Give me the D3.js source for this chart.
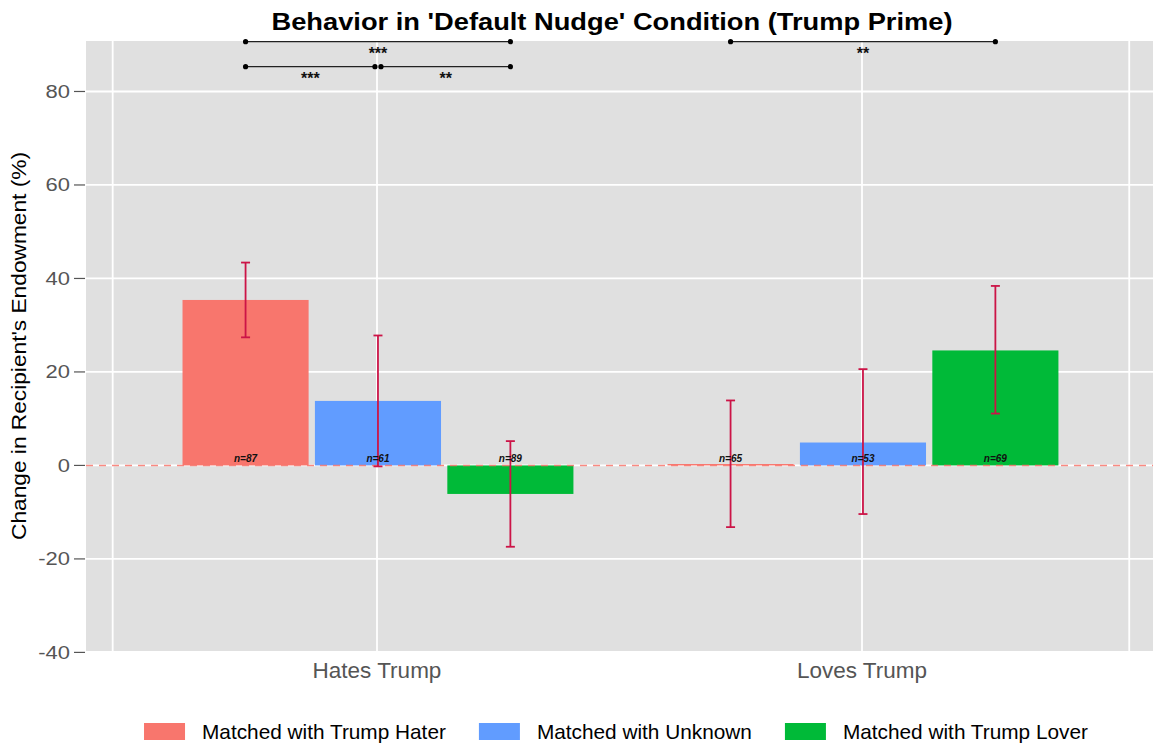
<!DOCTYPE html>
<html>
<head>
<meta charset="utf-8">
<script src="https://cdn.jsdelivr.net/npm/d3@7/dist/d3.min.js"></script>
<style>
  html, body { margin: 0; padding: 0; background: #ffffff; }
  svg { display: block; font-family: "Liberation Sans", Arial, sans-serif; }
</style>
</head>
<body>
<svg id="chart" width="1153" height="748"></svg>
<script>
// ---- data ----
const groups = ["Hates Trump", "Loves Trump"];
const series = ["Matched with Trump Hater", "Matched with Unknown", "Matched with Trump Lover"];
const colors = ["#F8766D", "#619CFF", "#00BA38"];

// mean change (%), per group, per partner type
const meanHates = [35.4, 13.8, -6.1];
const meanLoves = [0.3, 4.9, 24.6];
// error bar bounds
const lowerHates = [27.4, -0.2, -17.4];
const upperHates = [43.4, 27.8, 5.2];
const lowerLoves = [-13.2, -10.4, 11.1];
const upperLoves = [13.9, 20.6, 38.4];
// sample sizes
const nHates = [87, 61, 89];
const nLoves = [65, 53, 69];

const yTicks = [-40, -20, 0, 20, 40, 60, 80];

// significance comparisons: group index, series pair, bracket height, label
const sigGroup = [0, 0, 0, 1];
const sigFrom  = [0, 0, 1, 0];
const sigTo    = [2, 1, 2, 2];
const sigY     = [90.65, 85.3, 85.3, 90.65];
const sigLabel = ["***", "***", "**", "**"];

// ---- layout ----
const svg = d3.select("#chart");
const panel = { left: 86, right: 1153, top: 41, bottom: 651 };

const x = d3.scaleLinear().domain([0.4, 2.6]).range([panel.left, panel.right]);
const y = d3.scaleLinear().domain([-39.7, 90.8]).range([panel.bottom, panel.top]);
const xGrid = [0.455, 1, 2, 2.551];
const dodge = 0.273, barW = 0.26;
const pos = (g, s) => (g + 1) + (s - 1) * dodge + 0.002;

const rows = [];
groups.forEach((g, gi) => {
  const mean = gi === 0 ? meanHates : meanLoves;
  const lo = gi === 0 ? lowerHates : lowerLoves;
  const hi = gi === 0 ? upperHates : upperLoves;
  const n = gi === 0 ? nHates : nLoves;
  series.forEach((s, si) => rows.push({ gi, si, mean: mean[si], lo: lo[si], hi: hi[si], n: n[si] }));
});

// panel background
svg.append("rect")
  .attr("x", panel.left).attr("y", panel.top)
  .attr("width", panel.right - panel.left).attr("height", panel.bottom - panel.top)
  .attr("fill", "#E0E0E0");

svg.append("defs").append("clipPath").attr("id", "panelClip")
  .append("rect").attr("x", panel.left).attr("y", panel.top)
  .attr("width", panel.right - panel.left).attr("height", panel.bottom - panel.top);

const gridG = svg.append("g").attr("clip-path", "url(#panelClip)");
gridG.selectAll("line.h").data(yTicks).join("line")
  .attr("x1", panel.left).attr("x2", panel.right)
  .attr("y1", d => y(d)).attr("y2", d => y(d))
  .attr("stroke", "#ffffff").attr("stroke-width", 1.8);
gridG.selectAll("line.v").data(xGrid).join("line")
  .attr("y1", panel.top).attr("y2", panel.bottom)
  .attr("x1", d => x(d)).attr("x2", d => x(d))
  .attr("stroke", "#ffffff").attr("stroke-width", 1.8);

// bars
const bw = x(barW) - x(0);
svg.append("g").selectAll("rect").data(rows).join("rect")
  .attr("x", d => x(pos(d.gi, d.si)) - bw / 2)
  .attr("width", bw)
  .attr("y", d => y(Math.max(0, d.mean)))
  .attr("height", d => Math.abs(y(d.mean) - y(0)))
  .attr("fill", d => colors[d.si]);

// dashed reference line at zero
svg.append("line")
  .attr("x1", panel.left).attr("x2", panel.right)
  .attr("y1", y(0)).attr("y2", y(0))
  .attr("stroke", "#F8766D").attr("stroke-width", 1.5)
  .attr("stroke-dasharray", "7,6").attr("opacity", 0.85);

// error bars
const eb = svg.append("g").attr("stroke", "#CC1447").attr("stroke-width", 1.8).attr("fill", "none");
rows.forEach(d => {
  const cx = x(pos(d.gi, d.si));
  eb.append("line").attr("x1", cx).attr("x2", cx).attr("y1", y(d.lo)).attr("y2", y(d.hi));
  eb.append("line").attr("x1", cx - 4.5).attr("x2", cx + 4.5).attr("y1", y(d.lo)).attr("y2", y(d.lo));
  eb.append("line").attr("x1", cx - 4.5).attr("x2", cx + 4.5).attr("y1", y(d.hi)).attr("y2", y(d.hi));
});

// sample size labels
svg.append("g").selectAll("text").data(rows).join("text")
  .attr("x", d => x(pos(d.gi, d.si)))
  .attr("y", y(0) - 3.5)
  .attr("text-anchor", "middle")
  .attr("font-size", 10).attr("font-weight", "bold").attr("font-style", "italic")
  .attr("fill", "#111")
  .text(d => "n=" + d.n);

// significance brackets
const sg = svg.append("g");
sigGroup.forEach((g, i) => {
  let x1 = x(pos(g, sigFrom[i])), x2 = x(pos(g, sigTo[i]));
  if (sigFrom[i] === 1) x1 += 3;
  if (sigTo[i] === 1) x2 -= 3;
  const yy = y(sigY[i]);
  sg.append("line").attr("x1", x1).attr("x2", x2).attr("y1", yy).attr("y2", yy)
    .attr("stroke", "#222").attr("stroke-width", 1.2);
  [x1, x2].forEach(px => sg.append("circle").attr("cx", px).attr("cy", yy).attr("r", 2.6).attr("fill", "#000"));
  sg.append("text").attr("x", (x1 + x2) / 2).attr("y", yy + 17)
    .attr("text-anchor", "middle").attr("font-size", 16).attr("font-weight", "bold")
    .attr("fill", "#111").text(sigLabel[i]);
});

// y axis
const yAxis = svg.append("g");
yAxis.selectAll("line").data(yTicks).join("line")
  .attr("x1", panel.left - 12).attr("x2", panel.left - 1)
  .attr("y1", d => y(d)).attr("y2", d => y(d))
  .attr("stroke", "#555").attr("stroke-width", 1.2);
yAxis.selectAll("text").data(yTicks).join("text")
  .attr("x", panel.left - 16).attr("y", d => y(d))
  .attr("dy", "0.36em").attr("text-anchor", "end")
  .attr("font-size", 18).attr("fill", "#555")
  .text(d => d)
  .each(function () {
    const w = this.getComputedTextLength();
    d3.select(this).attr("textLength", w * 1.22).attr("lengthAdjust", "spacingAndGlyphs");
  });

// x axis labels
svg.append("g").selectAll("text").data(groups).join("text")
  .attr("x", (d, i) => x(i + 1))
  .attr("y", 678)
  .attr("text-anchor", "middle")
  .attr("font-size", 22.5).attr("fill", "#555")
  .text(d => d);

// y axis title
svg.append("text")
  .attr("transform", `translate(26,${(panel.top + panel.bottom) / 2}) rotate(-90)`)
  .attr("text-anchor", "middle")
  .attr("font-size", 20.5).attr("fill", "#000")
  .attr("textLength", 388).attr("lengthAdjust", "spacingAndGlyphs")
  .text("Change in Recipient's Endowment (%)");

// title
svg.append("text")
  .attr("x", 612).attr("y", 30)
  .attr("text-anchor", "middle")
  .attr("font-size", 24).attr("font-weight", "bold").attr("fill", "#000")
  .attr("textLength", 681).attr("lengthAdjust", "spacingAndGlyphs")
  .text("Behavior in 'Default Nudge' Condition (Trump Prime)");

// legend
const leg = svg.append("g");
const items = series.map((s, i) => {
  const t = leg.append("text").attr("font-size", 20.8).attr("fill", "#000").attr("y", 739).text(s);
  return { t, w: t.node().getComputedTextLength(), i };
});
const keyW = 41, keyGap = 17, itemGap = 33;
const total = d3.sum(items, d => keyW + keyGap + d.w) + itemGap * (items.length - 1);
let lx = 616 - total / 2;
items.forEach(d => {
  leg.append("rect").attr("x", lx).attr("y", 723).attr("width", keyW).attr("height", 17).attr("fill", colors[d.i]);
  d.t.attr("x", lx + keyW + keyGap);
  lx += keyW + keyGap + d.w + itemGap;
});
</script>
</body>
</html>
